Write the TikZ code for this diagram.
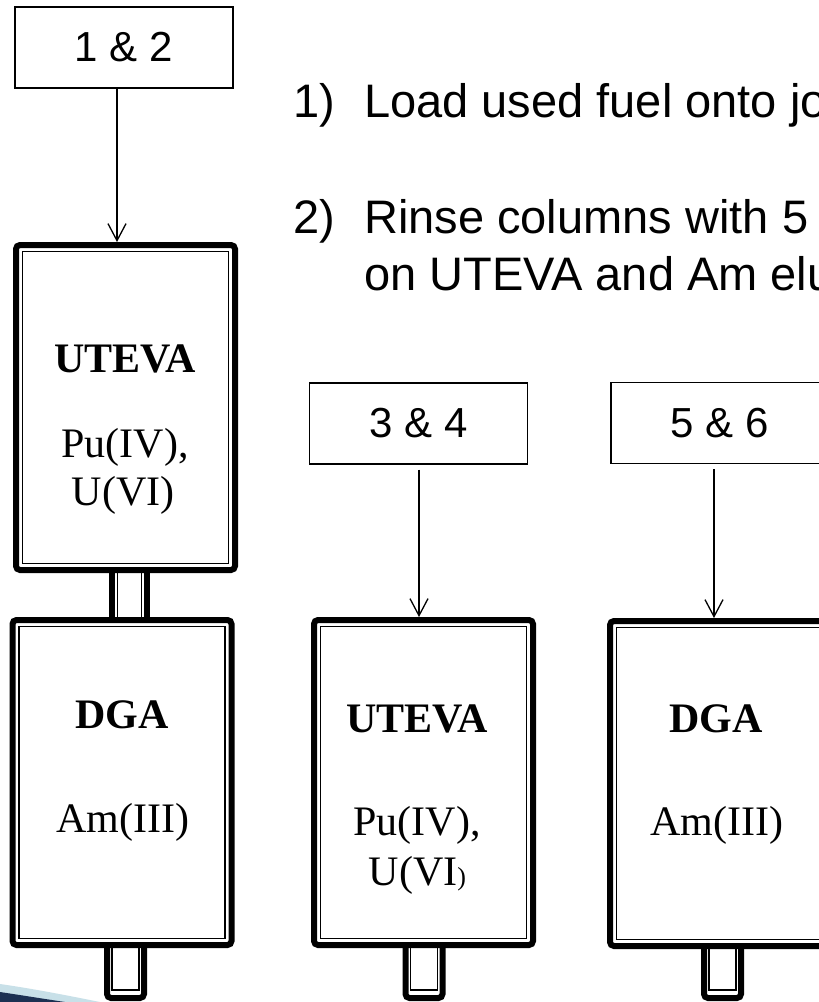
\documentclass[tikz,border=0pt]{standalone}
\usepackage{fontspec}
\setmainfont{Liberation Serif}
\newfontfamily\arialf{Liberation Sans}
\usetikzlibrary{arrows.meta}
\definecolor{swooshlight}{RGB}{200,224,232}
\definecolor{swooshdark}{RGB}{28,48,82}
\begin{document}
\begin{tikzpicture}[x=1pt,y=-1pt,
  lbl/.style={draw=black, line width=1.3pt, minimum width=218pt, minimum height=81pt, inner sep=0pt, font=\arialf\fontsize{42}{48}\selectfont},
  col/.style={draw=black, fill=white, line width=6pt, rounded corners=4pt, minimum width=219pt, minimum height=325pt, inner sep=0pt},
  colin/.style={draw=black, line width=1.2pt, minimum width=206pt, minimum height=312pt, inner sep=0pt},
  arr/.style={line width=1.3pt, -{Straight Barb[length=17pt,width=18pt,line width=1.3pt]}},
  tubeline/.style={line width=6pt},
  tubethin/.style={line width=1.2pt},
  head/.style={anchor=base, inner sep=0pt, font=\bfseries\fontsize{42}{48}\selectfont},
  ion/.style={anchor=base, inner sep=0pt, font=\fontsize{42}{48}\selectfont},
  stepline/.style={anchor=base west, inner sep=0pt, font=\arialf\fontsize{47}{57}\selectfont}
]
\useasboundingbox (0,0) rectangle (819,1002);
\clip (0,0) rectangle (819,1002);
\fill[white] (0,0) rectangle (819,1002);

% decoration
\fill[swooshlight] (0,984) .. controls (35,989) and (70,996) .. (100,1002) -- (0,1002) -- cycle;
\fill[swooshdark] (0,992) .. controls (20,995) and (45,999) .. (65,1002) -- (0,1002) -- cycle;

% tube between column 1 and column 2
\draw[tubeline] (111.7,560) -- (111.7,625) (146.7,560) -- (146.7,625);
\draw[tubethin] (117.5,560) -- (117.5,625) (141.5,560) -- (141.5,625);

% bottom tubes
\foreach \cx in {125.5,424,722.5}{
  \draw[tubeline, rounded corners=4pt, fill=white] (\cx-18.5,930) rectangle (\cx+18.5,998);
  \draw[tubethin] (\cx-13.5,935) rectangle (\cx+13.5,990);
}

% columns
\node[col] (col1) at (125.5,407.5) {};
\node[colin] (col1i) at (125.5,407.5) {};
\node[col] (col2) at (122,782.5) {};
\node[colin] (col2i) at (122,782.5) {};
\node[col] (col3) at (423.5,782.5) {};
\node[colin] (col3i) at (423.5,782.5) {};
\node[col] (col4) at (719.5,783.5) {};
\node[colin] (col4i) at (719.5,783.5) {};

% column texts
\node[head] (h1) at (125,372) {UTEVA};
\node[ion] (p1) at (125,457) {Pu(IV),};
\node[ion] (u1) at (123,505) {U(VI)};
\node[head] (h2) at (122,728) {DGA};
\node[ion] (a2) at (123,832) {Am(III)};
\node[head] (h3) at (417,732) {UTEVA};
\node[ion] (p3) at (417,835) {Pu(IV),};
\node[ion] (u3) at (417.5,885) {U(VI{\fontsize{26}{26}\selectfont)}};
\node[head] (h4) at (716,732) {DGA};
\node[ion] (a4) at (717,835) {Am(III)};

% label boxes
\node[lbl] (b12) at (124,47.5) {1 \& 2};
\node[lbl] (b34) at (418.5,423.5) {3 \& 4};
\node[lbl] (b56) at (720,423) {5 \& 6};

% arrows
\coordinate (x1) at (117,0);
\coordinate (x3) at (419,0);
\coordinate (x4) at (714,0);
\draw[arr] (b12.south -| x1) -- (col1.north -| x1);
\draw[arr] ([yshift=-5pt]b34.south -| x3) -- (col3.north -| x3);
\draw[arr] ([yshift=-5pt]b56.south -| x4) -- (col4.north -| x4);

% step texts
\node[stepline] (n1) at (293,117) {1)};
\node[stepline] (s1) at (364,117) {Load used fuel onto jo};
\node[stepline] (n2) at (293,233) {2)};
\node[stepline] (s2) at (364,233) {Rinse columns with 5};
\node[stepline] (s3) at (364,290) {on UTEVA and Am elu};
\end{tikzpicture}
\end{document}
